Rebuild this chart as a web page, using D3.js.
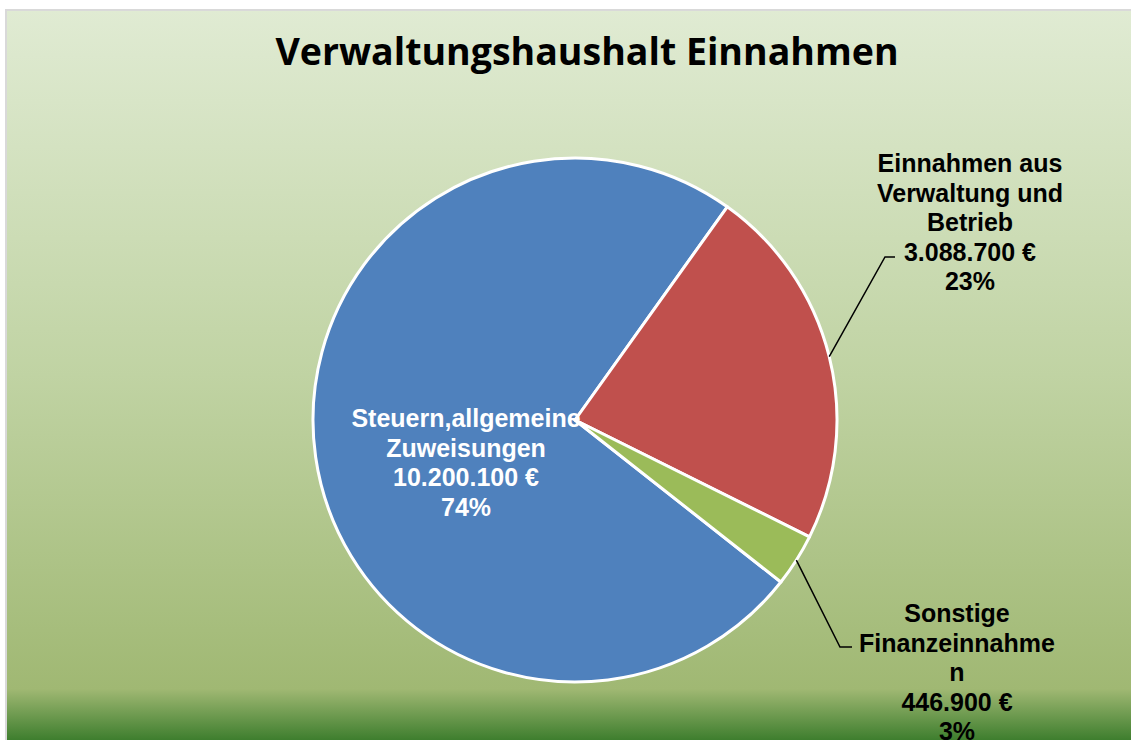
<!DOCTYPE html>
<meta charset="utf-8">
<style>
body { margin: 0; background: #fff; }
.lbl { font-family: "Liberation Sans", Arial, sans-serif; font-weight: bold; font-size: 25px; }
</style>
<body>
<svg id="chart"></svg>
<script src="https://d3js.org/d3.v7.min.js"></script>
<script>

// data
var categories = ["Steuern,allgemeine Zuweisungen", "Einnahmen aus Verwaltung und Betrieb", "Sonstige Finanzeinnahmen"];
var values = [10200100, 3088700, 446900];
var colors = ["#4f81bd", "#c0504d", "#9bbb59"];
// label lines as they are wrapped in the chart
var labelLines = [
  ["Steuern,allgemeine", "Zuweisungen", "10.200.100 €", "74%"],
  ["Einnahmen aus", "Verwaltung und", "Betrieb", "3.088.700 €", "23%"],
  ["Sonstige", "Finanzeinnahme", "n", "446.900 €", "3%"]
];

var width = 1131, height = 740;
var cx = 575, cy = 420, radius = 262;

var svg = d3.select("#chart")
    .attr("width", width)
    .attr("height", height);

// background gradient
var grad = svg.append("defs").append("linearGradient")
    .attr("id", "bg")
    .attr("gradientUnits", "userSpaceOnUse")
    .attr("x1", 0).attr("y1", 10).attr("x2", 0).attr("y2", height);
grad.append("stop").attr("offset", "0%").attr("stop-color", "#e0ebd3");
grad.append("stop").attr("offset", "50%").attr("stop-color", "#c0d3a3");
grad.append("stop").attr("offset", "93%").attr("stop-color", "#a0b873");
grad.append("stop").attr("offset", "100%").attr("stop-color", "#3e7e2e");

svg.append("rect")
    .attr("x", 6).attr("y", 10)
    .attr("width", width).attr("height", height + 10)
    .attr("fill", "url(#bg)")
    .attr("stroke", "#d9d9d9")
    .attr("stroke-width", 2);

// title
svg.append("text")
    .attr("x", 587)
    .attr("y", 65)
    .attr("text-anchor", "middle")
    .style("font-family", "'Open Sans', sans-serif")
    .style("font-weight", "bold")
    .style("font-size", "37.5px")
    .text("Verwaltungshaushalt Einnahmen");

// pie
var start = 128.2 * Math.PI / 180;
var pie = d3.pie().sort(null).startAngle(start).endAngle(start + 2 * Math.PI);
var arcs = pie(values);
var arc = d3.arc().innerRadius(0).outerRadius(radius);

var g = svg.append("g").attr("transform", "translate(" + cx + "," + cy + ")");

g.selectAll("path.slice")
    .data(arcs)
  .enter().append("path")
    .attr("class", "slice")
    .attr("d", arc)
    .attr("fill", function(d, i) { return colors[i]; })
    .attr("stroke", "#fff")
    .attr("stroke-width", 3)
    .attr("stroke-linejoin", "round");

// label positions (relative to pie centre)
var labelPos = [
  {x: -109, y: 7, fill: "#fff"},
  {x: 395, y: -248, fill: "#000"},
  {x: 382, y: 202, fill: "#000"}
];
var lineH = 29.5;

labelLines.forEach(function(lines, i) {
  var t = g.append("text")
      .attr("class", "lbl")
      .attr("text-anchor", "middle")
      .attr("fill", labelPos[i].fill);
  lines.forEach(function(s, j) {
    t.append("tspan")
        .attr("x", labelPos[i].x)
        .attr("y", labelPos[i].y + j * lineH)
        .text(s);
  });
});

// leader lines
var leaders = [
  {i: 1, elbow: [310, -163], end: [320, -163]},
  {i: 2, elbow: [265, 227], end: [277, 227]}
];
leaders.forEach(function(l) {
  var d = arcs[l.i];
  var a = (d.startAngle + d.endAngle) / 2;
  var p = [Math.sin(a) * radius, -Math.cos(a) * radius];
  g.append("polyline")
      .attr("points", [p, l.elbow, l.end].map(function(q) { return q.join(","); }).join(" "))
      .attr("fill", "none")
      .attr("stroke", "#000")
      .attr("stroke-width", 1.5);
});

</script>
</body>
